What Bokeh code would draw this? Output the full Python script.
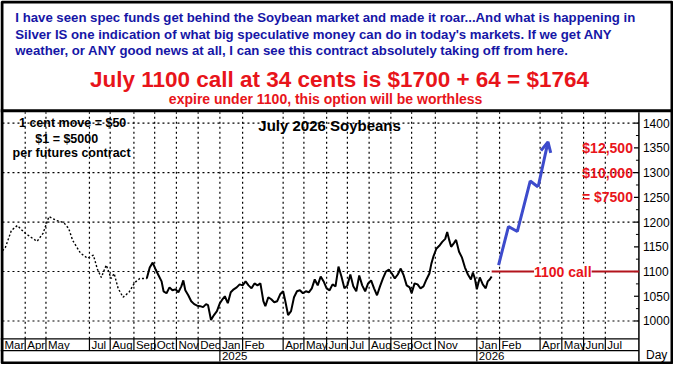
from bokeh.plotting import figure
from bokeh.models import Range1d, Label, Arrow, OpenHead
from bokeh.core.properties import value
from bokeh.embed import file_html
from bokeh.resources import INLINE

# ---------------- data ----------------
# x = trading-day index from the start of the contract history (Mar 2024)
month_ticks = [0, 23, 44, 88, 109, 133, 154, 176, 198, 220, 243, 284, 305, 328,
               349, 371, 393, 414, 438, 480, 503, 544, 566, 588, 610]
month_labels = ["Mar", "Apr", "May", "Jul", "Aug", "Sep", "Oct", "Nov", "Dec",
                "Jan", "Feb", "Apr", "May", "Jun", "Jul", "Aug", "Sep", "Oct",
                "Nov", "Jan", "Feb", "Apr", "May", "Jun", "Jul"]
year_ticks = [220, 480]
year_labels = ["2025", "2026"]
price_ticks = [1000, 1050, 1100, 1150, 1200, 1250, 1300, 1350, 1400]
minor_price_ticks = [1025, 1075, 1125, 1175, 1225, 1275, 1325, 1375]
grid_levels = [1000, 1100, 1200, 1300, 1400]

early_days = [0, 3, 9, 15, 22, 29, 35, 41, 47, 55, 62, 67, 71, 79, 86, 92, 96,
              100, 105, 110, 113, 117, 122, 128, 134, 139, 146]
early_close = [1142, 1149, 1183, 1193, 1179, 1169, 1161, 1177, 1211, 1203, 1199,
               1187, 1163, 1137, 1127, 1133, 1105, 1088, 1113, 1086, 1096, 1066,
               1048, 1058, 1078, 1086, 1086]

days = [146, 149, 152, 155, 158, 161, 163, 166, 169, 172, 175, 178, 181, 183, 185,
        188, 191, 194, 197, 200, 203, 206, 208, 211, 214, 217, 220, 222, 225, 228,
        231, 234, 237, 240, 243, 246, 249, 252, 255, 258, 261, 264, 266, 269, 272,
        275, 278, 281, 284, 286, 289, 292, 295, 298, 301, 304, 307, 310, 313, 316,
        319, 322, 325, 328, 331, 334, 337, 340, 343, 346, 349, 352, 355, 358, 361,
        364, 367, 370, 373, 376, 379, 382, 385, 388, 391, 394, 397, 400, 403, 406,
        409, 412, 414, 417, 420, 423, 426, 429, 432, 434, 436, 439, 442, 445, 448,
        450, 452, 454, 457, 459, 462, 465, 468, 471, 474, 476, 478, 480, 483, 486,
        489, 491, 493, 495]
close = [1086, 1108, 1118, 1104, 1092, 1080, 1060, 1056, 1068, 1062, 1064, 1058,
         1070, 1082, 1062, 1052, 1040, 1034, 1031, 1030, 1028, 1034, 1032, 1002,
         1012, 1020, 1036, 1042, 1050, 1036, 1058, 1064, 1068, 1074, 1072, 1080,
         1072, 1066, 1076, 1072, 1076, 1040, 1030, 1048, 1044, 1038, 1040, 1054,
         1060, 1042, 1012, 1020, 1048, 1060, 1062, 1056, 1060, 1058, 1066, 1084,
         1072, 1090, 1080, 1066, 1062, 1074, 1070, 1110, 1090, 1066, 1072, 1094,
         1070, 1060, 1092, 1072, 1060, 1076, 1082, 1066, 1052, 1070, 1086, 1100,
         1104, 1096, 1086, 1094, 1106, 1092, 1072, 1068, 1056, 1076, 1074, 1066,
         1070, 1084, 1096, 1116, 1130, 1146, 1152, 1160, 1166, 1180, 1164, 1150,
         1158, 1164, 1140, 1128, 1108, 1094, 1084, 1098, 1086, 1064, 1088, 1074,
         1066, 1080, 1084, 1090]

strike = 1100
projection_days = [502, 512, 521, 534, 542]
projection_price = [1113, 1191, 1181, 1283, 1271]
arrow_tip_day = 552
arrow_tip_price = 1362
payoff_levels = [1350, 1300, 1250]
payoff_labels = ["$12,500", "$10,000", "= $7500"]

note_lines = ["I have seen spec funds get behind the Soybean market and made it roar...And what is happening in",
              "Silver IS one indication of what big speculative money can do in today's markets. If we get ANY",
              "weather, or ANY good news at all, I can see this contract absolutely taking off from here."]
headline = "July 1100 call at 34 cents is $1700 + 64 = $1764"
subline = "expire under 1100, this option will be worthless"
chart_title = "July 2026 Soybeans"
contract_notes = ["1 cent move = $50", "$1 = $5000", "per futures contract"]

# ---------------- figure ----------------
FONT_NAME = "Liberation Sans"
FONT = value(FONT_NAME)
BLUE_TXT = "#1616a6"
RED = "#e8141a"
DARK_RED = "#b3141c"
ARROW_BLUE = "#3d4bcc"

AXIS_T = 644           # right edge of the price area (trading-day units)
AREA_TOP = 1422        # price value at the top edge of the price area
AREA_BOTTOM = 964      # price value at the bottom edge of the price area
ROW_SPLIT = 940
BOTTOM = 918

p = figure(width=673, height=364, x_range=Range1d(-2, 679), y_range=Range1d(912, 1648),
           output_backend="svg", toolbar_location=None,
           x_axis_location=None, y_axis_location=None, min_border=0,
           outline_line_color=None, background_fill_color="white",
           border_fill_color="white")
p.min_border_left = p.min_border_right = p.min_border_top = p.min_border_bottom = 0
p.xgrid.visible = False
p.ygrid.visible = False
# layout coordinates (for frame / text box)
p.extra_x_ranges = {"rx": Range1d(6, 687)}
p.extra_y_ranges = {"ry": Range1d(375, 7)}
R = dict(x_range_name="rx", y_range_name="ry")


def txt(x, y, s, size, color="black", bold=False, align="left", lay=False, xoff=0):
    kw = R if lay else {}
    p.text(x=x, y=y, text=s, text_font=FONT, text_font_size=f"{size}px",
           text_font_style="bold" if bold else "normal", text_color=color,
           text_align=align, text_baseline="middle", x_offset=xoff, **kw)


# dotted grid
p.segment(x0=month_ticks[1:], y0=AREA_BOTTOM, x1=month_ticks[1:], y1=AREA_TOP,
          line_color="black", line_width=1.2, line_dash="2 3")
p.segment(x0=0, y0=grid_levels, x1=AXIS_T, y1=grid_levels,
          line_color="black", line_width=1.2, line_dash="2 3")

# date strip
p.segment(x0=-2, y0=[AREA_BOTTOM, ROW_SPLIT], x1=AXIS_T, y1=[AREA_BOTTOM, ROW_SPLIT],
          line_color="black", line_width=1.2)
p.segment(x0=month_ticks, y0=AREA_BOTTOM, x1=month_ticks, y1=ROW_SPLIT,
          line_color="black", line_width=1.2)
p.segment(x0=year_ticks, y0=ROW_SPLIT, x1=year_ticks, y1=BOTTOM,
          line_color="black", line_width=1.2)
txt(month_ticks, [(AREA_BOTTOM + ROW_SPLIT) / 2] * len(month_ticks), month_labels, 11.5, xoff=2)
txt(year_ticks, [(ROW_SPLIT + BOTTOM) / 2] * len(year_ticks), year_labels, 11.5, xoff=2)

# right price axis
p.segment(x0=AXIS_T, y0=BOTTOM, x1=AXIS_T, y1=AREA_TOP, line_color="black", line_width=1.5)
p.segment(x0=AXIS_T - 5, y0=price_ticks, x1=AXIS_T, y1=price_ticks, line_color="black", line_width=1.2)
p.segment(x0=AXIS_T - 3, y0=minor_price_ticks, x1=AXIS_T, y1=minor_price_ticks, line_color="black", line_width=1)
txt([AXIS_T] * len(price_ticks), price_ticks, [str(v) for v in price_ticks], 12, xoff=4)
txt([670], [365], ["Day"], 12, align="center", lay=True)

# price history
p.line(early_days, early_close, line_color="black", line_width=1.4, line_dash="2 2")
p.line(days, close, line_color="black", line_width=2)

# strike line and label
p.segment(x0=days[-1], y0=strike, x1=AXIS_T, y1=strike, line_color=DARK_RED, line_width=2)
p.add_layout(Label(x=567, y=strike, text="1100 call", text_font=FONT_NAME, text_font_size="14px",
                   text_font_style="bold", text_color=RED, text_align="center",
                   text_baseline="middle", background_fill_color="white"))

# projected path
p.line(projection_days, projection_price, line_color=ARROW_BLUE, line_width=3)
p.add_layout(Arrow(end=OpenHead(size=10, line_color=ARROW_BLUE, line_width=3),
                   x_start=projection_days[-1], y_start=projection_price[-1],
                   x_end=arrow_tip_day, y_end=arrow_tip_price,
                   line_color=ARROW_BLUE, line_width=3))

# payoff labels
txt([AXIS_T] * len(payoff_levels), payoff_levels, payoff_labels, 14, color=RED, bold=True,
    align="right", xoff=-6)

# chart notes
txt([339], [133], [chart_title], 15, bold=True, align="center", lay=True)
txt([79, 73, 78], [131, 147, 161], contract_notes, 12.5, bold=True, align="center", lay=True)

# top text box
txt([21, 21, 21], [24, 41, 58], note_lines, 13.2, color=BLUE_TXT, bold=True, lay=True)
txt([349], [87], [headline], 22.5, color=RED, bold=True, align="center", lay=True)
txt([335], [107], [subline], 14, color=RED, bold=True, align="center", lay=True)

# frame
p.quad(left=[7.5], right=[685.5], top=[8.5], bottom=[373.5], fill_color=None,
       line_color="black", line_width=3, **R)
p.segment(x0=[6], y0=[118.5], x1=[687], y1=[118.5], line_color="black", line_width=3, **R)

open("out.html", "w").write(file_html(p, INLINE))
